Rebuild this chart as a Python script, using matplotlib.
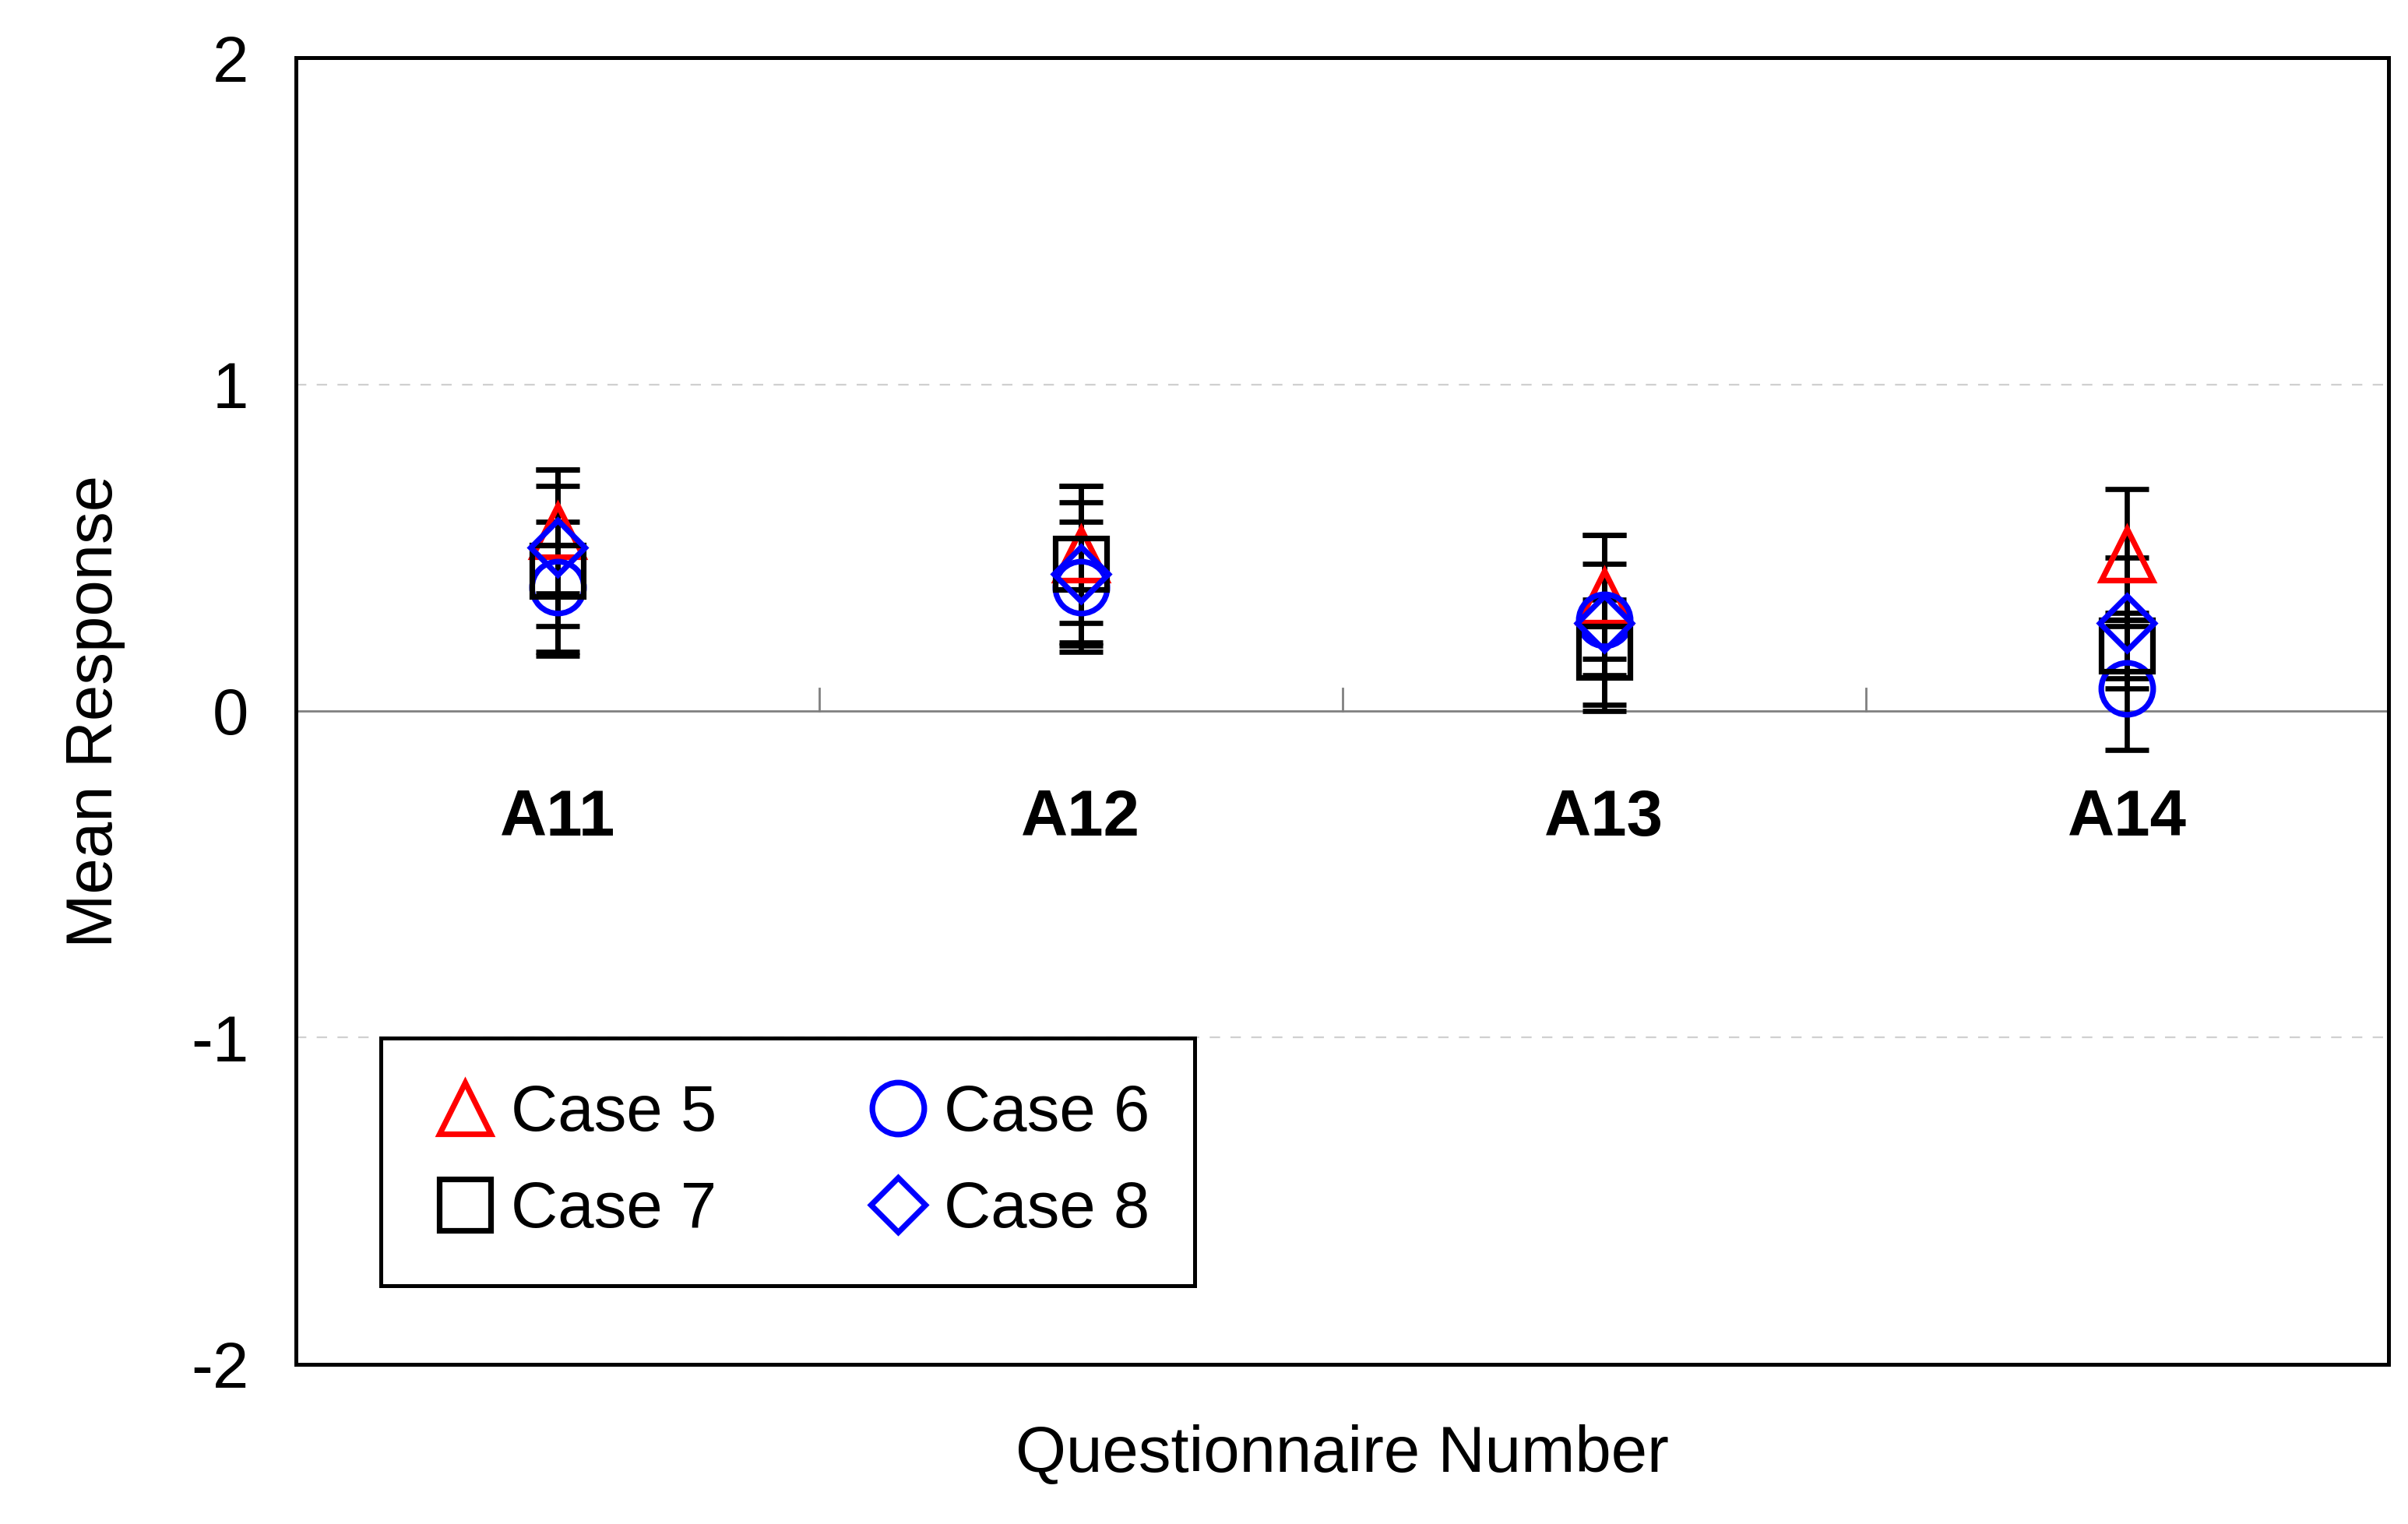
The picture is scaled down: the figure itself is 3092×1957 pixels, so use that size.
import numpy as np
import matplotlib.pyplot as plt

plt.rcParams['font.family'] = ['Liberation Sans', 'DejaVu Sans']

questions = ['A11', 'A12', 'A13', 'A14']
case5 = [0.55, 0.48, 0.35, 0.48]
case5_err = [0.19, 0.21, 0.19, 0.20]
case6 = [0.38, 0.38, 0.28, 0.07]
case6_err = [0.20, 0.20, 0.17, 0.19]
case7 = [0.43, 0.45, 0.18, 0.20]
case7_err = [0.26, 0.24, 0.16, 0.10]
case8 = [0.50, 0.42, 0.27, 0.27]
case8_err = [0.24, 0.22, 0.27, 0.20]

fig = plt.figure(figsize=(15.46, 9.785), dpi=200)
ax = fig.add_axes([0.123, 0.105, 0.869, 0.857])
x = np.arange(len(questions)) + 0.5

series = [
    (case5, case5_err, '^', 'red', 'Case 5'),
    (case6, case6_err, 'o', 'blue', 'Case 6'),
    (case7, case7_err, 's', 'black', 'Case 7'),
    (case8, case8_err, 'D', 'blue', 'Case 8'),
]
for vals, errs, m, c, lab in series:
    ax.errorbar(x, vals, yerr=errs, fmt='none', ecolor='black', elinewidth=2.4,
                capsize=10, capthick=2.4, zorder=2)
handles = {}
for vals, errs, m, c, lab in series:
    h, = ax.plot(x, vals, ls='none', marker=m, ms=24 if m != 'D' else 18, mfc='none',
                 mec=c, mew=2.6, label=lab, zorder=3)
    handles[lab] = h

ax.set_xlim(0, 4)
ax.set_ylim(-2, 2)
ax.set_yticks([-2, -1, 0, 1, 2])
ax.set_yticklabels(['-2', '-1', '0', '1', '2'], fontsize=30)
ax.tick_params(axis='y', length=0, pad=22)
ax.set_xticks([])
for yv in [1, -1]:
    ax.axhline(yv, color='#d0d0d0', ls=(0, (6, 6)), lw=0.8, zorder=0)
ax.axhline(0, color='#808080', lw=1.0, zorder=1)
for xb in [1, 2, 3]:
    ax.plot([xb, xb], [0, 0.07], color='#808080', lw=1.0, zorder=1)
for xi, q in zip(x, questions):
    ax.text(xi, -0.33, q, ha='center', va='center', fontsize=30, fontweight='bold')
for s in ax.spines.values():
    s.set_linewidth(1.8)

ax.set_ylabel('Mean Response', fontsize=30, labelpad=30)
ax.set_xlabel('Questionnaire Number', fontsize=30, labelpad=28)

order = ['Case 5', 'Case 7', 'Case 6', 'Case 8']
leg = ax.legend([handles[k] for k in order], order, loc='lower left', ncol=2,
                fontsize=30, frameon=True, fancybox=False, framealpha=1,
                edgecolor='black', handletextpad=0.1, columnspacing=2.2,
                borderpad=0.7, labelspacing=0.55, handlelength=1.2,
                bbox_to_anchor=(0.025, 0.035))
leg.get_frame().set_linewidth(1.8)

fig.savefig('out.png', dpi=200)
